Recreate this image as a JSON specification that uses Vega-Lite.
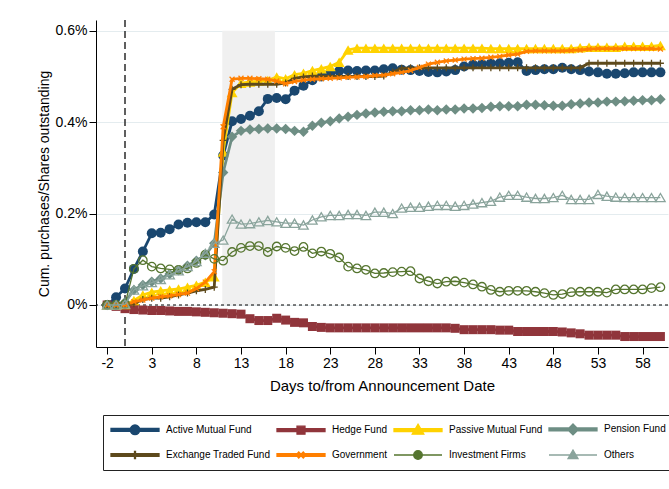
{
"$schema": "https://vega.github.io/schema/vega-lite/v6.json",
"width": 572,
"height": 327,
"autosize": {"type": "none"},
"padding": {"left": 96, "top": 20, "right": 1, "bottom": 142},
"background": "white",
"config": {
 "font": "Liberation Sans",
 "view": {"stroke": null},
 "axis": {"domainColor": "black", "tickColor": "black", "labelColor": "black", "titleColor": "black", "labelFontSize": 14, "titleFontSize": 14, "titleFontWeight": "normal", "tickSize": 7, "labelFont": "Liberation Sans", "titleFont": "Liberation Sans"},
 "legend": {"labelFont": "Liberation Sans", "labelFontSize": 10, "labelColor": "black"}
},
"datasets": {
 "shade": [{"day": 10.9, "day_end": 16.8, "value": 0, "value_end": 0.6}],
 "zero": [{"day": 0, "value": 0}],
 "series": [
{"day":-2,"series":"Active Mutual Fund","value":0},{"day":-1,"series":"Active Mutual Fund","value":0.017},{"day":0,"series":"Active Mutual Fund","value":0.036},{"day":1,"series":"Active Mutual Fund","value":0.079},{"day":2,"series":"Active Mutual Fund","value":0.117},{"day":3,"series":"Active Mutual Fund","value":0.157},{"day":4,"series":"Active Mutual Fund","value":0.158},{"day":5,"series":"Active Mutual Fund","value":0.166},{"day":6,"series":"Active Mutual Fund","value":0.176},{"day":7,"series":"Active Mutual Fund","value":0.18},{"day":8,"series":"Active Mutual Fund","value":0.181},{"day":9,"series":"Active Mutual Fund","value":0.181},{"day":10,"series":"Active Mutual Fund","value":0.198},{"day":11,"series":"Active Mutual Fund","value":0.327},{"day":12,"series":"Active Mutual Fund","value":0.402},{"day":13,"series":"Active Mutual Fund","value":0.407},{"day":14,"series":"Active Mutual Fund","value":0.414},{"day":15,"series":"Active Mutual Fund","value":0.424},{"day":16,"series":"Active Mutual Fund","value":0.451},{"day":17,"series":"Active Mutual Fund","value":0.453},{"day":18,"series":"Active Mutual Fund","value":0.45},{"day":19,"series":"Active Mutual Fund","value":0.469},{"day":20,"series":"Active Mutual Fund","value":0.48},{"day":21,"series":"Active Mutual Fund","value":0.492},{"day":22,"series":"Active Mutual Fund","value":0.5},{"day":23,"series":"Active Mutual Fund","value":0.507},{"day":24,"series":"Active Mutual Fund","value":0.512},{"day":25,"series":"Active Mutual Fund","value":0.513},{"day":26,"series":"Active Mutual Fund","value":0.512},{"day":27,"series":"Active Mutual Fund","value":0.513},{"day":28,"series":"Active Mutual Fund","value":0.513},{"day":29,"series":"Active Mutual Fund","value":0.516},{"day":30,"series":"Active Mutual Fund","value":0.518},{"day":31,"series":"Active Mutual Fund","value":0.515},{"day":32,"series":"Active Mutual Fund","value":0.514},{"day":33,"series":"Active Mutual Fund","value":0.512},{"day":34,"series":"Active Mutual Fund","value":0.51},{"day":35,"series":"Active Mutual Fund","value":0.509},{"day":36,"series":"Active Mutual Fund","value":0.511},{"day":37,"series":"Active Mutual Fund","value":0.514},{"day":38,"series":"Active Mutual Fund","value":0.522},{"day":39,"series":"Active Mutual Fund","value":0.526},{"day":40,"series":"Active Mutual Fund","value":0.527},{"day":41,"series":"Active Mutual Fund","value":0.529},{"day":42,"series":"Active Mutual Fund","value":0.529},{"day":43,"series":"Active Mutual Fund","value":0.53},{"day":44,"series":"Active Mutual Fund","value":0.531},{"day":45,"series":"Active Mutual Fund","value":0.512},{"day":46,"series":"Active Mutual Fund","value":0.514},{"day":47,"series":"Active Mutual Fund","value":0.516},{"day":48,"series":"Active Mutual Fund","value":0.516},{"day":49,"series":"Active Mutual Fund","value":0.519},{"day":50,"series":"Active Mutual Fund","value":0.516},{"day":51,"series":"Active Mutual Fund","value":0.514},{"day":52,"series":"Active Mutual Fund","value":0.511},{"day":53,"series":"Active Mutual Fund","value":0.509},{"day":54,"series":"Active Mutual Fund","value":0.506},{"day":55,"series":"Active Mutual Fund","value":0.506},{"day":56,"series":"Active Mutual Fund","value":0.507},{"day":57,"series":"Active Mutual Fund","value":0.509},{"day":58,"series":"Active Mutual Fund","value":0.509},{"day":59,"series":"Active Mutual Fund","value":0.509},{"day":60,"series":"Active Mutual Fund","value":0.509},
{"day":-2,"series":"Hedge Fund","value":0},{"day":-1,"series":"Hedge Fund","value":-0.003},{"day":0,"series":"Hedge Fund","value":-0.008},{"day":1,"series":"Hedge Fund","value":-0.01},{"day":2,"series":"Hedge Fund","value":-0.011},{"day":3,"series":"Hedge Fund","value":-0.012},{"day":4,"series":"Hedge Fund","value":-0.012},{"day":5,"series":"Hedge Fund","value":-0.013},{"day":6,"series":"Hedge Fund","value":-0.014},{"day":7,"series":"Hedge Fund","value":-0.014},{"day":8,"series":"Hedge Fund","value":-0.015},{"day":9,"series":"Hedge Fund","value":-0.016},{"day":10,"series":"Hedge Fund","value":-0.017},{"day":11,"series":"Hedge Fund","value":-0.018},{"day":12,"series":"Hedge Fund","value":-0.019},{"day":13,"series":"Hedge Fund","value":-0.02},{"day":14,"series":"Hedge Fund","value":-0.03},{"day":15,"series":"Hedge Fund","value":-0.034},{"day":16,"series":"Hedge Fund","value":-0.034},{"day":17,"series":"Hedge Fund","value":-0.029},{"day":18,"series":"Hedge Fund","value":-0.033},{"day":19,"series":"Hedge Fund","value":-0.038},{"day":20,"series":"Hedge Fund","value":-0.039},{"day":21,"series":"Hedge Fund","value":-0.047},{"day":22,"series":"Hedge Fund","value":-0.049},{"day":23,"series":"Hedge Fund","value":-0.05},{"day":24,"series":"Hedge Fund","value":-0.05},{"day":25,"series":"Hedge Fund","value":-0.05},{"day":26,"series":"Hedge Fund","value":-0.05},{"day":27,"series":"Hedge Fund","value":-0.05},{"day":28,"series":"Hedge Fund","value":-0.05},{"day":29,"series":"Hedge Fund","value":-0.05},{"day":30,"series":"Hedge Fund","value":-0.05},{"day":31,"series":"Hedge Fund","value":-0.05},{"day":32,"series":"Hedge Fund","value":-0.05},{"day":33,"series":"Hedge Fund","value":-0.05},{"day":34,"series":"Hedge Fund","value":-0.05},{"day":35,"series":"Hedge Fund","value":-0.05},{"day":36,"series":"Hedge Fund","value":-0.05},{"day":37,"series":"Hedge Fund","value":-0.051},{"day":38,"series":"Hedge Fund","value":-0.054},{"day":39,"series":"Hedge Fund","value":-0.054},{"day":40,"series":"Hedge Fund","value":-0.054},{"day":41,"series":"Hedge Fund","value":-0.054},{"day":42,"series":"Hedge Fund","value":-0.055},{"day":43,"series":"Hedge Fund","value":-0.055},{"day":44,"series":"Hedge Fund","value":-0.058},{"day":45,"series":"Hedge Fund","value":-0.058},{"day":46,"series":"Hedge Fund","value":-0.058},{"day":47,"series":"Hedge Fund","value":-0.058},{"day":48,"series":"Hedge Fund","value":-0.058},{"day":49,"series":"Hedge Fund","value":-0.059},{"day":50,"series":"Hedge Fund","value":-0.061},{"day":51,"series":"Hedge Fund","value":-0.063},{"day":52,"series":"Hedge Fund","value":-0.066},{"day":53,"series":"Hedge Fund","value":-0.066},{"day":54,"series":"Hedge Fund","value":-0.066},{"day":55,"series":"Hedge Fund","value":-0.066},{"day":56,"series":"Hedge Fund","value":-0.069},{"day":57,"series":"Hedge Fund","value":-0.069},{"day":58,"series":"Hedge Fund","value":-0.069},{"day":59,"series":"Hedge Fund","value":-0.069},{"day":60,"series":"Hedge Fund","value":-0.069},
{"day":-2,"series":"Passive Mutual Fund","value":0},{"day":-1,"series":"Passive Mutual Fund","value":0},{"day":0,"series":"Passive Mutual Fund","value":0.001},{"day":1,"series":"Passive Mutual Fund","value":0.01},{"day":2,"series":"Passive Mutual Fund","value":0.022},{"day":3,"series":"Passive Mutual Fund","value":0.028},{"day":4,"series":"Passive Mutual Fund","value":0.031},{"day":5,"series":"Passive Mutual Fund","value":0.033},{"day":6,"series":"Passive Mutual Fund","value":0.035},{"day":7,"series":"Passive Mutual Fund","value":0.039},{"day":8,"series":"Passive Mutual Fund","value":0.043},{"day":9,"series":"Passive Mutual Fund","value":0.05},{"day":10,"series":"Passive Mutual Fund","value":0.062},{"day":11,"series":"Passive Mutual Fund","value":0.335},{"day":12,"series":"Passive Mutual Fund","value":0.465},{"day":13,"series":"Passive Mutual Fund","value":0.485},{"day":14,"series":"Passive Mutual Fund","value":0.488},{"day":15,"series":"Passive Mutual Fund","value":0.49},{"day":16,"series":"Passive Mutual Fund","value":0.491},{"day":17,"series":"Passive Mutual Fund","value":0.499},{"day":18,"series":"Passive Mutual Fund","value":0.495},{"day":19,"series":"Passive Mutual Fund","value":0.504},{"day":20,"series":"Passive Mutual Fund","value":0.507},{"day":21,"series":"Passive Mutual Fund","value":0.513},{"day":22,"series":"Passive Mutual Fund","value":0.517},{"day":23,"series":"Passive Mutual Fund","value":0.522},{"day":24,"series":"Passive Mutual Fund","value":0.531},{"day":25,"series":"Passive Mutual Fund","value":0.558},{"day":26,"series":"Passive Mutual Fund","value":0.562},{"day":27,"series":"Passive Mutual Fund","value":0.562},{"day":28,"series":"Passive Mutual Fund","value":0.562},{"day":29,"series":"Passive Mutual Fund","value":0.562},{"day":30,"series":"Passive Mutual Fund","value":0.562},{"day":31,"series":"Passive Mutual Fund","value":0.562},{"day":32,"series":"Passive Mutual Fund","value":0.562},{"day":33,"series":"Passive Mutual Fund","value":0.562},{"day":34,"series":"Passive Mutual Fund","value":0.562},{"day":35,"series":"Passive Mutual Fund","value":0.562},{"day":36,"series":"Passive Mutual Fund","value":0.562},{"day":37,"series":"Passive Mutual Fund","value":0.562},{"day":38,"series":"Passive Mutual Fund","value":0.562},{"day":39,"series":"Passive Mutual Fund","value":0.562},{"day":40,"series":"Passive Mutual Fund","value":0.562},{"day":41,"series":"Passive Mutual Fund","value":0.561},{"day":42,"series":"Passive Mutual Fund","value":0.561},{"day":43,"series":"Passive Mutual Fund","value":0.561},{"day":44,"series":"Passive Mutual Fund","value":0.561},{"day":45,"series":"Passive Mutual Fund","value":0.561},{"day":46,"series":"Passive Mutual Fund","value":0.561},{"day":47,"series":"Passive Mutual Fund","value":0.561},{"day":48,"series":"Passive Mutual Fund","value":0.561},{"day":49,"series":"Passive Mutual Fund","value":0.561},{"day":50,"series":"Passive Mutual Fund","value":0.561},{"day":51,"series":"Passive Mutual Fund","value":0.563},{"day":52,"series":"Passive Mutual Fund","value":0.564},{"day":53,"series":"Passive Mutual Fund","value":0.564},{"day":54,"series":"Passive Mutual Fund","value":0.564},{"day":55,"series":"Passive Mutual Fund","value":0.564},{"day":56,"series":"Passive Mutual Fund","value":0.566},{"day":57,"series":"Passive Mutual Fund","value":0.566},{"day":58,"series":"Passive Mutual Fund","value":0.566},{"day":59,"series":"Passive Mutual Fund","value":0.566},{"day":60,"series":"Passive Mutual Fund","value":0.568},
{"day":-2,"series":"Pension Fund","value":0},{"day":-1,"series":"Pension Fund","value":0},{"day":0,"series":"Pension Fund","value":0.006},{"day":1,"series":"Pension Fund","value":0.033},{"day":2,"series":"Pension Fund","value":0.044},{"day":3,"series":"Pension Fund","value":0.051},{"day":4,"series":"Pension Fund","value":0.058},{"day":5,"series":"Pension Fund","value":0.068},{"day":6,"series":"Pension Fund","value":0.076},{"day":7,"series":"Pension Fund","value":0.086},{"day":8,"series":"Pension Fund","value":0.097},{"day":9,"series":"Pension Fund","value":0.109},{"day":10,"series":"Pension Fund","value":0.135},{"day":11,"series":"Pension Fund","value":0.29},{"day":12,"series":"Pension Fund","value":0.368},{"day":13,"series":"Pension Fund","value":0.381},{"day":14,"series":"Pension Fund","value":0.384},{"day":15,"series":"Pension Fund","value":0.385},{"day":16,"series":"Pension Fund","value":0.386},{"day":17,"series":"Pension Fund","value":0.386},{"day":18,"series":"Pension Fund","value":0.385},{"day":19,"series":"Pension Fund","value":0.381},{"day":20,"series":"Pension Fund","value":0.379},{"day":21,"series":"Pension Fund","value":0.392},{"day":22,"series":"Pension Fund","value":0.399},{"day":23,"series":"Pension Fund","value":0.402},{"day":24,"series":"Pension Fund","value":0.408},{"day":25,"series":"Pension Fund","value":0.412},{"day":26,"series":"Pension Fund","value":0.416},{"day":27,"series":"Pension Fund","value":0.419},{"day":28,"series":"Pension Fund","value":0.421},{"day":29,"series":"Pension Fund","value":0.423},{"day":30,"series":"Pension Fund","value":0.424},{"day":31,"series":"Pension Fund","value":0.424},{"day":32,"series":"Pension Fund","value":0.426},{"day":33,"series":"Pension Fund","value":0.426},{"day":34,"series":"Pension Fund","value":0.428},{"day":35,"series":"Pension Fund","value":0.426},{"day":36,"series":"Pension Fund","value":0.428},{"day":37,"series":"Pension Fund","value":0.428},{"day":38,"series":"Pension Fund","value":0.43},{"day":39,"series":"Pension Fund","value":0.43},{"day":40,"series":"Pension Fund","value":0.431},{"day":41,"series":"Pension Fund","value":0.434},{"day":42,"series":"Pension Fund","value":0.435},{"day":43,"series":"Pension Fund","value":0.435},{"day":44,"series":"Pension Fund","value":0.435},{"day":45,"series":"Pension Fund","value":0.438},{"day":46,"series":"Pension Fund","value":0.438},{"day":47,"series":"Pension Fund","value":0.437},{"day":48,"series":"Pension Fund","value":0.436},{"day":49,"series":"Pension Fund","value":0.436},{"day":50,"series":"Pension Fund","value":0.439},{"day":51,"series":"Pension Fund","value":0.441},{"day":52,"series":"Pension Fund","value":0.443},{"day":53,"series":"Pension Fund","value":0.443},{"day":54,"series":"Pension Fund","value":0.445},{"day":55,"series":"Pension Fund","value":0.445},{"day":56,"series":"Pension Fund","value":0.446},{"day":57,"series":"Pension Fund","value":0.447},{"day":58,"series":"Pension Fund","value":0.448},{"day":59,"series":"Pension Fund","value":0.448},{"day":60,"series":"Pension Fund","value":0.45},
{"day":-2,"series":"Exchange Traded Fund","value":0},{"day":-1,"series":"Exchange Traded Fund","value":0},{"day":0,"series":"Exchange Traded Fund","value":0},{"day":1,"series":"Exchange Traded Fund","value":0.003},{"day":2,"series":"Exchange Traded Fund","value":0.012},{"day":3,"series":"Exchange Traded Fund","value":0.015},{"day":4,"series":"Exchange Traded Fund","value":0.015},{"day":5,"series":"Exchange Traded Fund","value":0.018},{"day":6,"series":"Exchange Traded Fund","value":0.022},{"day":7,"series":"Exchange Traded Fund","value":0.026},{"day":8,"series":"Exchange Traded Fund","value":0.031},{"day":9,"series":"Exchange Traded Fund","value":0.034},{"day":10,"series":"Exchange Traded Fund","value":0.039},{"day":11,"series":"Exchange Traded Fund","value":0.36},{"day":12,"series":"Exchange Traded Fund","value":0.472},{"day":13,"series":"Exchange Traded Fund","value":0.482},{"day":14,"series":"Exchange Traded Fund","value":0.483},{"day":15,"series":"Exchange Traded Fund","value":0.483},{"day":16,"series":"Exchange Traded Fund","value":0.483},{"day":17,"series":"Exchange Traded Fund","value":0.483},{"day":18,"series":"Exchange Traded Fund","value":0.486},{"day":19,"series":"Exchange Traded Fund","value":0.496},{"day":20,"series":"Exchange Traded Fund","value":0.499},{"day":21,"series":"Exchange Traded Fund","value":0.501},{"day":22,"series":"Exchange Traded Fund","value":0.501},{"day":23,"series":"Exchange Traded Fund","value":0.501},{"day":24,"series":"Exchange Traded Fund","value":0.5},{"day":25,"series":"Exchange Traded Fund","value":0.5},{"day":26,"series":"Exchange Traded Fund","value":0.5},{"day":27,"series":"Exchange Traded Fund","value":0.5},{"day":28,"series":"Exchange Traded Fund","value":0.5},{"day":29,"series":"Exchange Traded Fund","value":0.501},{"day":30,"series":"Exchange Traded Fund","value":0.51},{"day":31,"series":"Exchange Traded Fund","value":0.518},{"day":32,"series":"Exchange Traded Fund","value":0.519},{"day":33,"series":"Exchange Traded Fund","value":0.519},{"day":34,"series":"Exchange Traded Fund","value":0.519},{"day":35,"series":"Exchange Traded Fund","value":0.519},{"day":36,"series":"Exchange Traded Fund","value":0.519},{"day":37,"series":"Exchange Traded Fund","value":0.519},{"day":38,"series":"Exchange Traded Fund","value":0.519},{"day":39,"series":"Exchange Traded Fund","value":0.519},{"day":40,"series":"Exchange Traded Fund","value":0.519},{"day":41,"series":"Exchange Traded Fund","value":0.519},{"day":42,"series":"Exchange Traded Fund","value":0.519},{"day":43,"series":"Exchange Traded Fund","value":0.519},{"day":44,"series":"Exchange Traded Fund","value":0.519},{"day":45,"series":"Exchange Traded Fund","value":0.519},{"day":46,"series":"Exchange Traded Fund","value":0.519},{"day":47,"series":"Exchange Traded Fund","value":0.519},{"day":48,"series":"Exchange Traded Fund","value":0.519},{"day":49,"series":"Exchange Traded Fund","value":0.519},{"day":50,"series":"Exchange Traded Fund","value":0.519},{"day":51,"series":"Exchange Traded Fund","value":0.519},{"day":52,"series":"Exchange Traded Fund","value":0.529},{"day":53,"series":"Exchange Traded Fund","value":0.529},{"day":54,"series":"Exchange Traded Fund","value":0.529},{"day":55,"series":"Exchange Traded Fund","value":0.529},{"day":56,"series":"Exchange Traded Fund","value":0.529},{"day":57,"series":"Exchange Traded Fund","value":0.529},{"day":58,"series":"Exchange Traded Fund","value":0.529},{"day":59,"series":"Exchange Traded Fund","value":0.529},{"day":60,"series":"Exchange Traded Fund","value":0.529},
{"day":-2,"series":"Government","value":0},{"day":-1,"series":"Government","value":0},{"day":0,"series":"Government","value":0},{"day":1,"series":"Government","value":0.007},{"day":2,"series":"Government","value":0.011},{"day":3,"series":"Government","value":0.015},{"day":4,"series":"Government","value":0.018},{"day":5,"series":"Government","value":0.02},{"day":6,"series":"Government","value":0.023},{"day":7,"series":"Government","value":0.026},{"day":8,"series":"Government","value":0.036},{"day":9,"series":"Government","value":0.05},{"day":10,"series":"Government","value":0.073},{"day":11,"series":"Government","value":0.39},{"day":12,"series":"Government","value":0.494},{"day":13,"series":"Government","value":0.496},{"day":14,"series":"Government","value":0.496},{"day":15,"series":"Government","value":0.495},{"day":16,"series":"Government","value":0.494},{"day":17,"series":"Government","value":0.49},{"day":18,"series":"Government","value":0.484},{"day":19,"series":"Government","value":0.489},{"day":20,"series":"Government","value":0.492},{"day":21,"series":"Government","value":0.494},{"day":22,"series":"Government","value":0.495},{"day":23,"series":"Government","value":0.496},{"day":24,"series":"Government","value":0.497},{"day":25,"series":"Government","value":0.498},{"day":26,"series":"Government","value":0.499},{"day":27,"series":"Government","value":0.5},{"day":28,"series":"Government","value":0.502},{"day":29,"series":"Government","value":0.503},{"day":30,"series":"Government","value":0.506},{"day":31,"series":"Government","value":0.509},{"day":32,"series":"Government","value":0.513},{"day":33,"series":"Government","value":0.52},{"day":34,"series":"Government","value":0.527},{"day":35,"series":"Government","value":0.531},{"day":36,"series":"Government","value":0.534},{"day":37,"series":"Government","value":0.536},{"day":38,"series":"Government","value":0.538},{"day":39,"series":"Government","value":0.539},{"day":40,"series":"Government","value":0.54},{"day":41,"series":"Government","value":0.542},{"day":42,"series":"Government","value":0.544},{"day":43,"series":"Government","value":0.547},{"day":44,"series":"Government","value":0.549},{"day":45,"series":"Government","value":0.555},{"day":46,"series":"Government","value":0.556},{"day":47,"series":"Government","value":0.556},{"day":48,"series":"Government","value":0.556},{"day":49,"series":"Government","value":0.556},{"day":50,"series":"Government","value":0.557},{"day":51,"series":"Government","value":0.558},{"day":52,"series":"Government","value":0.56},{"day":53,"series":"Government","value":0.561},{"day":54,"series":"Government","value":0.561},{"day":55,"series":"Government","value":0.561},{"day":56,"series":"Government","value":0.561},{"day":57,"series":"Government","value":0.561},{"day":58,"series":"Government","value":0.561},{"day":59,"series":"Government","value":0.561},{"day":60,"series":"Government","value":0.56},
{"day":-2,"series":"Investment Firms","value":0},{"day":-1,"series":"Investment Firms","value":0},{"day":0,"series":"Investment Firms","value":0.002},{"day":1,"series":"Investment Firms","value":0.079},{"day":2,"series":"Investment Firms","value":0.098},{"day":3,"series":"Investment Firms","value":0.084},{"day":4,"series":"Investment Firms","value":0.08},{"day":5,"series":"Investment Firms","value":0.078},{"day":6,"series":"Investment Firms","value":0.077},{"day":7,"series":"Investment Firms","value":0.08},{"day":8,"series":"Investment Firms","value":0.092},{"day":9,"series":"Investment Firms","value":0.11},{"day":10,"series":"Investment Firms","value":0.101},{"day":11,"series":"Investment Firms","value":0.097},{"day":12,"series":"Investment Firms","value":0.116},{"day":13,"series":"Investment Firms","value":0.125},{"day":14,"series":"Investment Firms","value":0.129},{"day":15,"series":"Investment Firms","value":0.129},{"day":16,"series":"Investment Firms","value":0.116},{"day":17,"series":"Investment Firms","value":0.128},{"day":18,"series":"Investment Firms","value":0.125},{"day":19,"series":"Investment Firms","value":0.118},{"day":20,"series":"Investment Firms","value":0.127},{"day":21,"series":"Investment Firms","value":0.113},{"day":22,"series":"Investment Firms","value":0.117},{"day":23,"series":"Investment Firms","value":0.112},{"day":24,"series":"Investment Firms","value":0.104},{"day":25,"series":"Investment Firms","value":0.084},{"day":26,"series":"Investment Firms","value":0.08},{"day":27,"series":"Investment Firms","value":0.077},{"day":28,"series":"Investment Firms","value":0.069},{"day":29,"series":"Investment Firms","value":0.07},{"day":30,"series":"Investment Firms","value":0.072},{"day":31,"series":"Investment Firms","value":0.073},{"day":32,"series":"Investment Firms","value":0.074},{"day":33,"series":"Investment Firms","value":0.058},{"day":34,"series":"Investment Firms","value":0.052},{"day":35,"series":"Investment Firms","value":0.047},{"day":36,"series":"Investment Firms","value":0.051},{"day":37,"series":"Investment Firms","value":0.052},{"day":38,"series":"Investment Firms","value":0.049},{"day":39,"series":"Investment Firms","value":0.045},{"day":40,"series":"Investment Firms","value":0.04},{"day":41,"series":"Investment Firms","value":0.033},{"day":42,"series":"Investment Firms","value":0.029},{"day":43,"series":"Investment Firms","value":0.031},{"day":44,"series":"Investment Firms","value":0.031},{"day":45,"series":"Investment Firms","value":0.031},{"day":46,"series":"Investment Firms","value":0.029},{"day":47,"series":"Investment Firms","value":0.026},{"day":48,"series":"Investment Firms","value":0.022},{"day":49,"series":"Investment Firms","value":0.024},{"day":50,"series":"Investment Firms","value":0.028},{"day":51,"series":"Investment Firms","value":0.029},{"day":52,"series":"Investment Firms","value":0.029},{"day":53,"series":"Investment Firms","value":0.029},{"day":54,"series":"Investment Firms","value":0.027},{"day":55,"series":"Investment Firms","value":0.034},{"day":56,"series":"Investment Firms","value":0.034},{"day":57,"series":"Investment Firms","value":0.034},{"day":58,"series":"Investment Firms","value":0.034},{"day":59,"series":"Investment Firms","value":0.037},{"day":60,"series":"Investment Firms","value":0.039},
{"day":-2,"series":"Others","value":0},{"day":-1,"series":"Others","value":0},{"day":0,"series":"Others","value":0.002},{"day":1,"series":"Others","value":0.033},{"day":2,"series":"Others","value":0.042},{"day":3,"series":"Others","value":0.049},{"day":4,"series":"Others","value":0.056},{"day":5,"series":"Others","value":0.066},{"day":6,"series":"Others","value":0.075},{"day":7,"series":"Others","value":0.084},{"day":8,"series":"Others","value":0.095},{"day":9,"series":"Others","value":0.113},{"day":10,"series":"Others","value":0.135},{"day":11,"series":"Others","value":0.142},{"day":12,"series":"Others","value":0.188},{"day":13,"series":"Others","value":0.177},{"day":14,"series":"Others","value":0.178},{"day":15,"series":"Others","value":0.182},{"day":16,"series":"Others","value":0.185},{"day":17,"series":"Others","value":0.182},{"day":18,"series":"Others","value":0.179},{"day":19,"series":"Others","value":0.179},{"day":20,"series":"Others","value":0.175},{"day":21,"series":"Others","value":0.186},{"day":22,"series":"Others","value":0.193},{"day":23,"series":"Others","value":0.196},{"day":24,"series":"Others","value":0.196},{"day":25,"series":"Others","value":0.198},{"day":26,"series":"Others","value":0.198},{"day":27,"series":"Others","value":0.196},{"day":28,"series":"Others","value":0.203},{"day":29,"series":"Others","value":0.203},{"day":30,"series":"Others","value":0.2},{"day":31,"series":"Others","value":0.212},{"day":32,"series":"Others","value":0.214},{"day":33,"series":"Others","value":0.214},{"day":34,"series":"Others","value":0.216},{"day":35,"series":"Others","value":0.218},{"day":36,"series":"Others","value":0.218},{"day":37,"series":"Others","value":0.216},{"day":38,"series":"Others","value":0.218},{"day":39,"series":"Others","value":0.221},{"day":40,"series":"Others","value":0.224},{"day":41,"series":"Others","value":0.227},{"day":42,"series":"Others","value":0.236},{"day":43,"series":"Others","value":0.24},{"day":44,"series":"Others","value":0.24},{"day":45,"series":"Others","value":0.236},{"day":46,"series":"Others","value":0.233},{"day":47,"series":"Others","value":0.233},{"day":48,"series":"Others","value":0.235},{"day":49,"series":"Others","value":0.24},{"day":50,"series":"Others","value":0.231},{"day":51,"series":"Others","value":0.231},{"day":52,"series":"Others","value":0.231},{"day":53,"series":"Others","value":0.242},{"day":54,"series":"Others","value":0.238},{"day":55,"series":"Others","value":0.236},{"day":56,"series":"Others","value":0.235},{"day":57,"series":"Others","value":0.235},{"day":58,"series":"Others","value":0.235},{"day":59,"series":"Others","value":0.235},{"day":60,"series":"Others","value":0.235}
 ]
},
"layer": [
 {"data": {"name": "shade"}, "mark": {"type": "rect", "color": "#f0f0f0"},
  "encoding": {
   "x": {"field": "day", "type": "quantitative", "title": "Days to/from Announcement Date", "scale": {"domain": [-3.25, 60.85], "nice": false, "zero": false},
     "axis": {"values": [-2, 3, 8, 13, 18, 23, 28, 33, 38, 43, 48, 53, 58], "grid": false, "labelPadding": 2, "titlePadding": 8, "titleFontSize": 15, "labelFlush": false, "labelExpr": "datum.value < 0 ? '-' + abs(datum.value) : '' + datum.value"}},
   "x2": {"field": "day_end"},
   "y": {"field": "value", "type": "quantitative", "title": "Cum. purchases/Shares outstanding", "scale": {"domain": [-0.0919, 0.6236], "nice": false, "zero": false},
     "axis": {"values": [0, 0.2, 0.4, 0.6], "grid": true, "gridColor": "#e4ecef", "labelExpr": "datum.value == 0 ? '0%' : format(datum.value, '.1f') + '%'", "labelPadding": 2, "titlePadding": 4}},
   "y2": {"field": "value_end"}
  }},
 {"data": {"name": "zero"}, "mark": {"type": "rule", "color": "black", "strokeWidth": 1.1, "strokeDash": [3, 3]},
  "encoding": {"y": {"field": "value", "type": "quantitative", "title": "Cum. purchases/Shares outstanding", "scale": {"domain": [-0.0919, 0.6236], "nice": false, "zero": false},
     "axis": {"values": [0, 0.2, 0.4, 0.6], "grid": true, "gridColor": "#e4ecef", "labelExpr": "datum.value == 0 ? '0%' : format(datum.value, '.1f') + '%'", "labelPadding": 2, "titlePadding": 4}}}},
 {"data": {"name": "zero"}, "mark": {"type": "rule", "color": "#2b2b2b", "strokeWidth": 1.5, "strokeDash": [7, 4]},
  "encoding": {"x": {"field": "day", "type": "quantitative", "title": "Days to/from Announcement Date", "scale": {"domain": [-3.25, 60.85], "nice": false, "zero": false},
     "axis": {"values": [-2, 3, 8, 13, 18, 23, 28, 33, 38, 43, 48, 53, 58], "grid": false, "labelPadding": 2, "titlePadding": 8, "titleFontSize": 15, "labelFlush": false, "labelExpr": "datum.value < 0 ? '-' + abs(datum.value) : '' + datum.value"}}}},
 {"data": {"name": "series"},
  "encoding": {
   "x": {"field": "day", "type": "quantitative", "title": "Days to/from Announcement Date", "scale": {"domain": [-3.25, 60.85], "nice": false, "zero": false},
     "axis": {"values": [-2, 3, 8, 13, 18, 23, 28, 33, 38, 43, 48, 53, 58], "grid": false, "labelPadding": 2, "titlePadding": 8, "titleFontSize": 15, "labelFlush": false, "labelExpr": "datum.value < 0 ? '-' + abs(datum.value) : '' + datum.value"}},
   "y": {"field": "value", "type": "quantitative", "title": "Cum. purchases/Shares outstanding", "scale": {"domain": [-0.0919, 0.6236], "nice": false, "zero": false},
     "axis": {"values": [0, 0.2, 0.4, 0.6], "grid": true, "gridColor": "#e4ecef", "labelExpr": "datum.value == 0 ? '0%' : format(datum.value, '.1f') + '%'", "labelPadding": 2, "titlePadding": 4}},
   "color": {"field": "series", "type": "nominal",
     "scale": {"domain": ["Active Mutual Fund", "Hedge Fund", "Passive Mutual Fund", "Pension Fund", "Exchange Traded Fund", "Government", "Investment Firms", "Others"],
               "range": ["#1a476f", "#90353b", "#ffd200", "#6e8e84", "#5e4a1c", "#ff7f00", "#55752f", "#8aa49c"]},
     "legend": {"orient": "none", "legendX": 7, "legendY": 395, "title": null, "columns": 4, "direction": "horizontal",
       "strokeColor": "#222222", "fillColor": "white", "padding": 8,
       "symbolSize": 100, "symbolStrokeWidth": 1.3, "symbolOffset": 0, "labelOffset": 43, "columnPadding": 3, "rowPadding": 9,
       "labelFontSize": 10, "labelFont": "Liberation Sans", "labelColor": "black",
       "encode": {"symbols": {"update": {
         "shape": {"signal": "datum.value == 'Active Mutual Fund' ? 'M-1.2,-0.29L8.4,-0.29L8.4,0.29L-1.2,0.29ZM4.56,0A0.96,0.96 0 1,1 2.64,0A0.96,0.96 0 1,1 4.56,0Z' : datum.value == 'Hedge Fund' ? 'M-1.2,-0.29L8.4,-0.29L8.4,0.29L-1.2,0.29ZM2.8,-0.8L4.4,-0.8L4.4,0.8L2.8,0.8Z' : datum.value == 'Passive Mutual Fund' ? 'M-1.2,-0.29L8.4,-0.29L8.4,0.29L-1.2,0.29ZM3.6,-1.2L4.76,0.8L2.44,0.8Z' : datum.value == 'Pension Fund' ? 'M-1.2,-0.29L8.4,-0.29L8.4,0.29L-1.2,0.29ZM3.6,-1.1L4.7,0L3.6,1.1L2.5,0Z' : datum.value == 'Exchange Traded Fund' ? 'M-1.2,-0.29L8.4,-0.29L8.4,0.29L-1.2,0.29ZM3.5,-0.72L3.7,-0.72L3.7,0.72L3.5,0.72Z' : datum.value == 'Government' ? 'M-1.2,-0.29L8.4,-0.29L8.4,0.29L-1.2,0.29ZM3,-0.46L3.14,-0.6L4.2,0.46L4.06,0.6ZM4.06,-0.6L4.2,-0.46L3.14,0.6L3,0.46Z' : datum.value == 'Investment Firms' ? 'M-1.2,0L2.74,0M4.46,0L8.4,0M4.46,0A0.86,0.86 0 1,1 2.74,0A0.86,0.86 0 1,1 4.46,0Z' : 'M-1.2,0L3.01,0M4.19,0L8.4,0M3.6,-1L4.6,0.7L2.6,0.7Z'"},
         "size": {"value": 100},
         "fill": {"signal": "(datum.value == 'Investment Firms' || datum.value == 'Others') ? 'white' : scale('color', datum.value)"},
         "stroke": {"signal": "(datum.value == 'Investment Firms' || datum.value == 'Others') ? scale('color', datum.value) : 'transparent'"},
         "strokeWidth": {"value": 1.3},
         "opacity": {"value": 1}
       }}}
     }}
  },
  "layer": [
   {"transform": [{"filter": "datum.series == 'Active Mutual Fund'"}], "mark": {"type": "line", "strokeWidth": 2.8}},
   {"transform": [{"filter": "datum.series == 'Active Mutual Fund'"}], "mark": {"type": "point", "shape": "circle", "size": 100, "filled": true, "opacity": 1}},
   {"transform": [{"filter": "datum.series == 'Hedge Fund'"}], "mark": {"type": "line", "strokeWidth": 2.8}},
   {"transform": [{"filter": "datum.series == 'Hedge Fund'"}], "mark": {"type": "point", "shape": "square", "size": 81, "filled": true, "opacity": 1}},
   {"transform": [{"filter": "datum.series == 'Passive Mutual Fund'"}], "mark": {"type": "line", "strokeWidth": 2.8}},
   {"transform": [{"filter": "datum.series == 'Passive Mutual Fund'"}], "mark": {"type": "point", "shape": "triangle-up", "size": 120, "filled": true, "opacity": 1}},
   {"transform": [{"filter": "datum.series == 'Pension Fund'"}], "mark": {"type": "line", "strokeWidth": 2.8}},
   {"transform": [{"filter": "datum.series == 'Pension Fund'"}], "mark": {"type": "point", "shape": "diamond", "size": 110, "filled": true, "opacity": 1}},
   {"transform": [{"filter": "datum.series == 'Exchange Traded Fund'"}], "mark": {"type": "line", "strokeWidth": 2.8}},
   {"transform": [{"filter": "datum.series == 'Exchange Traded Fund'"}], "mark": {"type": "point", "shape": "M-1,0L1,0M0,-1L0,1", "size": 49, "filled": false, "strokeWidth": 1.3, "opacity": 1}},
   {"transform": [{"filter": "datum.series == 'Government'"}], "mark": {"type": "line", "strokeWidth": 2.8}},
   {"transform": [{"filter": "datum.series == 'Government'"}], "mark": {"type": "point", "shape": "M-1,-1L1,1M-1,1L1,-1", "size": 25, "filled": false, "strokeWidth": 1.3, "opacity": 1}},
   {"transform": [{"filter": "datum.series == 'Investment Firms'"}], "mark": {"type": "line", "strokeWidth": 1.3}},
   {"transform": [{"filter": "datum.series == 'Investment Firms'"}], "mark": {"type": "point", "shape": "circle", "size": 72, "filled": false, "strokeWidth": 1.3, "opacity": 1}},
   {"transform": [{"filter": "datum.series == 'Others'"}], "mark": {"type": "line", "strokeWidth": 1.3}},
   {"transform": [{"filter": "datum.series == 'Others'"}], "mark": {"type": "point", "shape": "triangle-up", "size": 90, "filled": false, "strokeWidth": 1.3, "opacity": 1}}
  ]}
]
}
